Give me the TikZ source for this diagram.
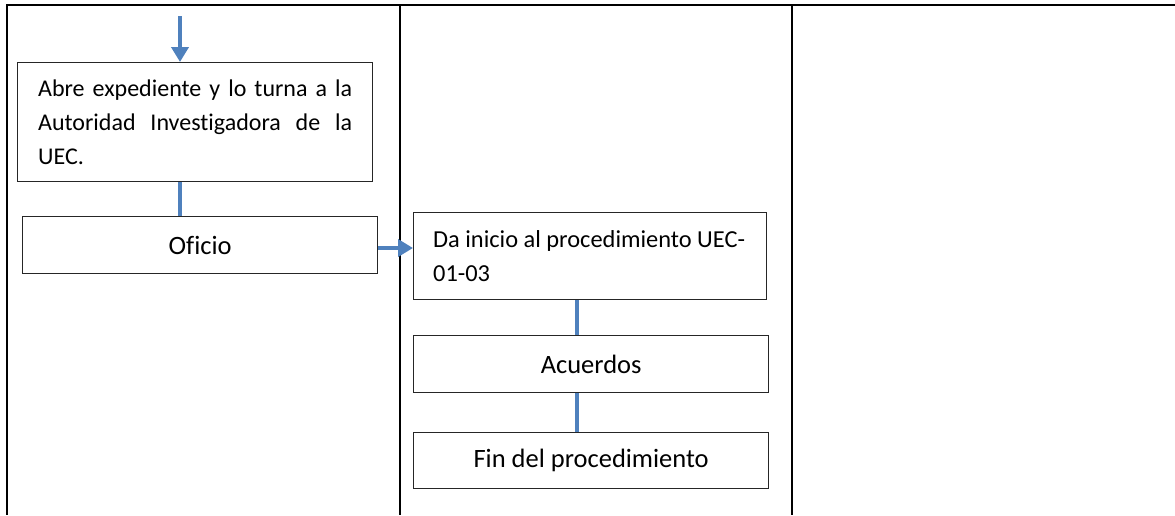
\documentclass[tikz,border=0pt]{standalone}
\usepackage{fontspec}
\setmainfont{Carlito}[Ligatures=NoCommon]
\usetikzlibrary{arrows.meta}
\definecolor{flowblue}{RGB}{79,129,189}
\tikzset{
  grid/.style={line width=2.5pt, black},
  box/.style={draw=black!85, line width=1.3pt, rectangle, inner sep=0pt, anchor=north west},
  conn/.style={draw=flowblue, line width=4.5pt},
  arr/.style={conn, -{Triangle[width=17pt,length=15pt]}},
  small/.style={font=\fontsize{24.4}{34}\selectfont},
  big/.style={font=\fontsize{26.5}{32}\selectfont}
}
\begin{document}
\begin{tikzpicture}[x=1pt,y=-1pt]
\useasboundingbox (0,0) rectangle (1175,515);
% table lines
\coordinate (tl) at (7,5);
\coordinate (tr) at (1175,5);
\coordinate (bl) at (7,515);
\coordinate (v1t) at (400,5);
\coordinate (v1b) at (400,515);
\coordinate (v2t) at (792,5);
\coordinate (v2b) at (792,515);
\draw[grid] (tr) -- (tl) -- (bl);
\draw[grid] (v1t) -- (v1b);
\draw[grid] (v2t) -- (v2b);
% boxes
\node[box, minimum width=355pt, minimum height=119pt, small] (abre) at (17,62)
  {\parbox{314pt}{\fontsize{24}{34}\selectfont
   \makebox[314pt][s]{Abre expediente y lo turna a la}\\
   \makebox[314pt][s]{Autoridad Investigadora de la}\\
   UEC.}};
\node[box, minimum width=355pt, minimum height=57pt, big] (oficio) at (22,216) {Oficio};
\node[box, minimum width=353pt, minimum height=87pt, small] (inicio) at (413,212)
  {\parbox{314pt}{\raggedright\fontsize{24.4}{34}\selectfont Da inicio al procedimiento UEC-\\01-03}};
\node[box, minimum width=355pt, minimum height=57pt, big] (acuerdos) at (413,335) {Acuerdos};
\node[box, minimum width=355pt, minimum height=56pt, big] (fin) at (413,432) {Fin del procedimiento};
% connectors
\coordinate (start) at (180,16);
\draw[arr] (start) -- (start |- abre.north);
\draw[conn] (abre.south -| start) -- (oficio.north -| start);
\draw[arr] (oficio.east |- 0,248) -- (inicio.west |- 0,248);
\draw[conn] (inicio.south -| 577,0) -- (acuerdos.north -| 577,0);
\draw[conn] (acuerdos.south -| 577,0) -- (fin.north -| 577,0);
\end{tikzpicture}
\end{document}
